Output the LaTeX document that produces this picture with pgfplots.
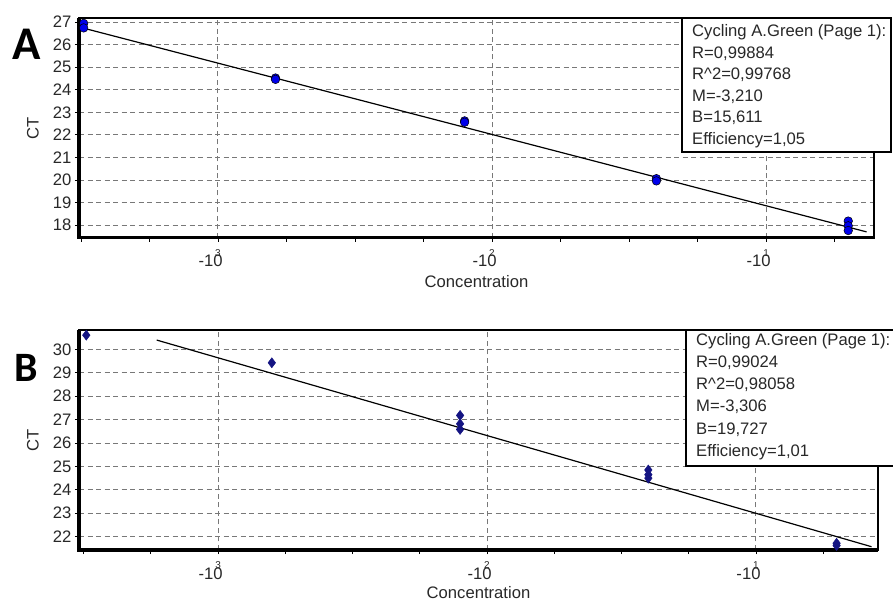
\documentclass[border=0pt]{standalone}
\usepackage{pgfplots}
\pgfplotsset{compat=1.18}
\usepackage{fontspec}
\setmainfont{Liberation Sans}
\newfontfamily\labfont{Carlito}

\definecolor{gridgray}{RGB}{120,120,120}
\definecolor{ptA}{RGB}{0,0,235}
\definecolor{ptB}{RGB}{20,20,130}
\definecolor{txt}{RGB}{40,40,40}

\newcommand{\fs}{\fontsize{16.7}{19}\selectfont}
% "-10" with the exponent drawn over the zero, as in the original software
\newcommand{\etick}[1]{\makebox[0pt][r]{-1\kern0.278em}\makebox[0pt][c]{0}\makebox[0pt][c]{\raisebox{0.64em}{\fontsize{10}{10}\selectfont #1}}}

\pgfplotsset{
  qpcr/.style={
    scale only axis,
    anchor=south west,
    clip=false,
    axis line style={line width=1.5bp},
    tick align=outside,
    tick pos=left,
    major tick length=4bp,
    minor tick length=4bp,
    tick style={black, line width=0.8bp},
    xtick={-3,-2,-1},
    xticklabels={\etick{3},\etick{2},\etick{1}},
    minor xtick={-3.5,-3.25,...,-0.5},
    xmajorgrids, ymajorgrids,
    grid style={gridgray, line width=0.9bp, dash pattern=on 5bp off 3.5bp},
    ticklabel style={font=\fs, text=txt},
    /pgf/number format/assume math mode=true,
    xticklabel style={anchor=base, yshift=-25bp},
  },
  fit/.style={black, line width=1.2bp, no marks},
}

\begin{document}
\begin{tikzpicture}
\path[use as bounding box] (0,0) rectangle (893bp,603bp);

% ---------------- panel A ----------------
\begin{axis}[qpcr,
  at={(79bp,365bp)}, width=795bp, height=220bp,
  xmin=-3.507, xmax=-0.606, ymin=17.43, ymax=27.18,
  ytick={18,...,27}]
\addplot[fit] coordinates {(-3.50,26.76) (-0.633,17.70)};
\addplot[only marks, mark=*, mark size=4.3bp,
  mark options={fill=ptA, draw=black, line width=0.5bp}] coordinates {
  (-3.49,26.94) (-3.49,26.74)
  (-2.79,24.52) (-2.79,24.46)
  (-2.10,22.62) (-2.10,22.56)
  (-1.40,20.06) (-1.40,19.96)
  (-0.70,18.18) (-0.70,17.97) (-0.70,17.76)
};
\draw[line width=3bp] (rel axis cs:0,1) -- (rel axis cs:0,0) -- (rel axis cs:1,0);
\node[rotate=90, font=\fs, text=txt] at ([xshift=-46bp]rel axis cs:0,0.5) {CT};
\node[anchor=base, font=\fs, text=txt] at ([yshift=-50bp]rel axis cs:0.5,0) {Concentration};
\end{axis}

% ---------------- panel B ----------------
\begin{axis}[qpcr,
  at={(79bp,53bp)}, width=799bp, height=220bp,
  xmin=-3.517, xmax=-0.546, ymin=21.43, ymax=30.83,
  ytick={22,...,30}]
\addplot[fit] coordinates {(-3.228,30.40) (-0.570,21.57)};
\addplot[only marks, mark=diamond*, mark size=5bp,
  mark options={fill=ptB, draw=ptB, line width=0.5bp}] coordinates {
  (-3.49,30.61)
  (-2.80,29.43)
  (-2.10,27.18) (-2.10,26.82) (-2.10,26.58)
  (-1.40,24.85) (-1.40,24.65) (-1.40,24.50)
  (-0.70,21.72) (-0.70,21.62)
};
\draw[line width=3bp] (rel axis cs:0,1) -- (rel axis cs:0,0) -- (rel axis cs:1,0);
\node[rotate=90, font=\fs, text=txt] at ([xshift=-46bp]rel axis cs:0,0.5) {CT};
\node[anchor=base, font=\fs, text=txt] at ([yshift=-48bp]rel axis cs:0.5,0) {Concentration};
\end{axis}

% ---------------- result boxes ----------------
\draw[fill=white, line width=1.2bp] (682bp,585bp) rectangle (891bp,451bp);
\foreach \t [count=\i from 0] in {Cycling A.Green (Page 1):, R=0{,}99884, R\textasciicircum 2=0{,}99768, M=-3{,}210, B=15{,}611, Efficiency=1{,}05}
  \node[anchor=base west, font=\fs, text=txt, inner sep=0pt] at (692bp,{(566-21.5*\i)*1bp}) {\t};

\draw[fill=white, line width=1.2bp] (686bp,273bp) rectangle (900bp,137bp);
\foreach \t [count=\i from 0] in {Cycling A.Green (Page 1):, R=0{,}99024, R\textasciicircum 2=0{,}98058, M=-3{,}306, B=19{,}727, Efficiency=1{,}01}
  \node[anchor=base west, font=\fs, text=txt, inner sep=0pt] at (696bp,{(258-22.3*\i)*1bp}) {\t};

% panel letters
\node[anchor=base west, inner sep=0pt, font=\labfont\bfseries\fontsize{47}{47}\selectfont] at (12bp,543bp) {A};
\node[anchor=base west, inner sep=0pt, font=\labfont\bfseries\fontsize{42}{42}\selectfont] at (14bp,221bp) {B};
\end{tikzpicture}
\end{document}
